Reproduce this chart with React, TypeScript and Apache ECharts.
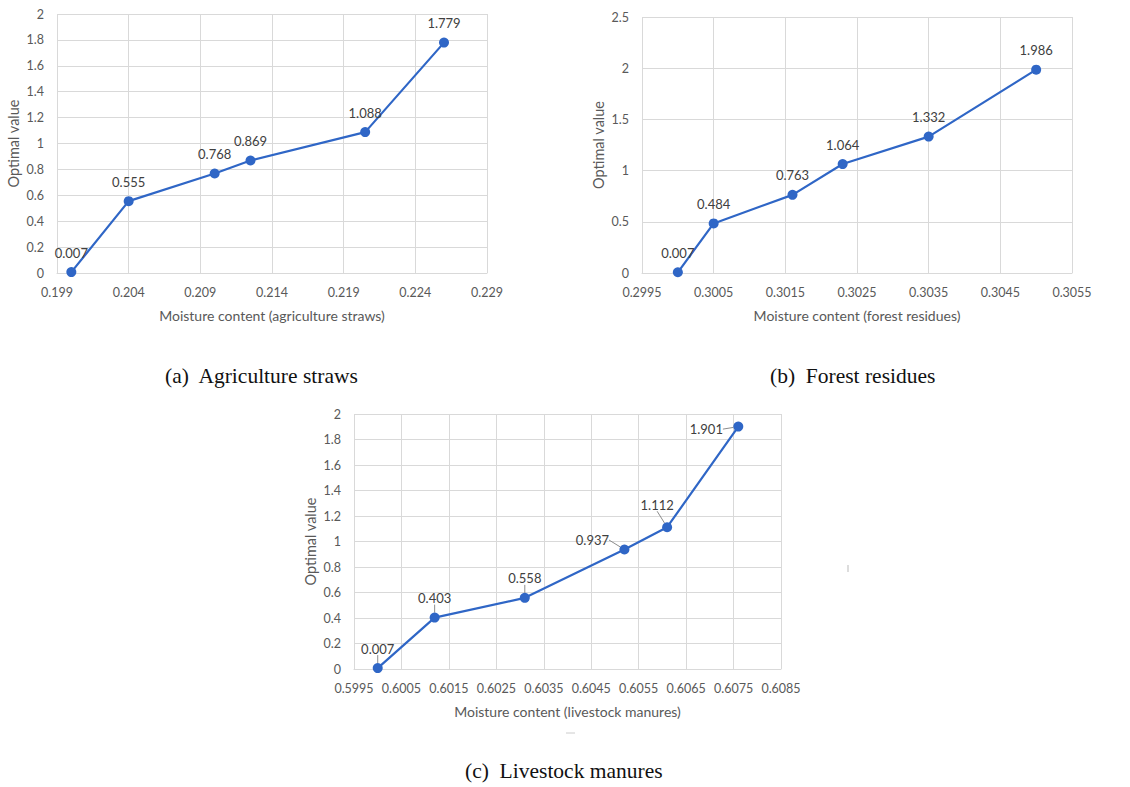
import React, { useEffect, useRef } from "react";
import * as echarts from "echarts";

// (a) Agriculture straws
const aX = [0.2, 0.204, 0.21, 0.2125, 0.2205, 0.226];
const aY = [0.007, 0.555, 0.768, 0.869, 1.088, 1.779];
const aTicks = [0.199, 0.204, 0.209, 0.214, 0.219, 0.224, 0.229];
// (b) Forest residues
const bX = [0.3, 0.3005, 0.3016, 0.3023, 0.3035, 0.305];
const bY = [0.007, 0.484, 0.763, 1.064, 1.332, 1.986];
const bTicks = [0.2995, 0.3005, 0.3015, 0.3025, 0.3035, 0.3045, 0.3055];
// (c) Livestock manures
const cX = [0.6, 0.6012, 0.6031, 0.6052, 0.6061, 0.6076];
const cY = [0.007, 0.403, 0.558, 0.937, 1.112, 1.901];
const cTicks = [0.5995, 0.6005, 0.6015, 0.6025, 0.6035, 0.6045, 0.6055, 0.6065, 0.6075, 0.6085];

const xTitles = [
  "Moisture content (agriculture straws)",
  "Moisture content (forest residues)",
  "Moisture content (livestock manures)",
];
const yTitle = "Optimal value";
const captions = ["(a)  Agriculture straws", "(b)  Forest residues", "(c)  Livestock manures"];

const BLUE = "#2f66c6";
const GRID = "#d9d9d9";
const TXT = "#595959";
const FONT = "Lato";

export default function App() {
  const ref = useRef<HTMLDivElement>(null);
  useEffect(() => {
    if (!ref.current) return;
    const chart = echarts.init(ref.current, undefined, { renderer: "svg" });

    const grids = [
      { left: 57, top: 14, width: 430, height: 259 },
      { left: 642, top: 17, width: 430, height: 256 },
      { left: 354, top: 414, width: 427, height: 255 },
    ];
    const ticks = [aTicks, bTicks, cTicks];
    const digits = [3, 4, 4];
    const yMax = [2, 2.5, 2];
    const yInt = [0.2, 0.5, 0.2];

    const xAxis: any[] = ticks.map((t, i) => ({
      type: "value",
      gridIndex: i,
      min: t[0],
      max: t[t.length - 1],
      name: xTitles[i],
      nameLocation: "middle",
      nameGap: 35,
      nameTextStyle: { color: TXT, fontFamily: FONT, fontSize: 14 },
      axisLine: { show: true, lineStyle: { color: GRID, width: 1 } },
      axisTick: { show: false, customValues: t },
      axisLabel: {
        customValues: t,
        color: TXT,
        fontFamily: FONT,
        fontSize: 12.5,
        margin: 13,
        hideOverlap: false,
        formatter: (v: number) => v.toFixed(digits[i]),
      },
      splitLine: { show: false },
    }));

    // helper axes (no labels) whose ticks coincide with the tick values above,
    // measured from the first tick, to draw the vertical gridlines
    ticks.forEach((t, i) => {
      const step = t[1] - t[0];
      const span = t[t.length - 1] - t[0];
      xAxis.push({
        type: "value",
        gridIndex: i,
        position: "top",
        min: 0,
        max: Number(span.toFixed(6)),
        interval: Number(step.toFixed(6)),
        axisLine: { show: false },
        axisTick: { show: false },
        axisLabel: { show: false },
        splitLine: { show: true, lineStyle: { color: GRID, width: 1 } },
      });
    });

    const yAxis = [0, 1, 2].map((i) => ({
      type: "value",
      gridIndex: i,
      min: 0,
      max: yMax[i],
      interval: yInt[i],
      name: yTitle,
      nameLocation: "middle",
      nameGap: 36,
      nameTextStyle: { color: TXT, fontFamily: FONT, fontSize: 14.5 },
      axisLine: { show: false },
      axisTick: { show: false },
      axisLabel: { color: TXT, fontFamily: FONT, fontSize: 12.5, margin: 13 },
      splitLine: { show: true, lineStyle: { color: GRID, width: 1 } },
    }));

    const xs = [aX, bX, cX];
    const ys = [aY, bY, cY];

    const cShift: Record<number, [number, number]> = {
      3: [-32, 10],
      4: [-10, -3],
      5: [-32, 22],
    };

    const series = [0, 1, 2].map((i) => ({
      type: "line",
      xAxisIndex: i,
      yAxisIndex: i,
      z: 3,
      data: xs[i].map((x, k) => [x, ys[i][k]]),
      symbol: "circle",
      symbolSize: 10,
      lineStyle: { color: BLUE, width: 2.2 },
      itemStyle: { color: BLUE },
      label: {
        show: true,
        position: "top",
        distance: 8,
        color: "#404040",
        fontFamily: FONT,
        fontSize: 13,
        formatter: (p: any) => (p.value[1] as number).toFixed(3),
      },
      labelLine:
        i === 2
          ? { show: true, lineStyle: { color: "#8c8c8c", width: 1 } }
          : { show: false },
      labelLayout:
        i === 2
          ? (p: any) => {
              const s = cShift[p.dataIndex];
              return s ? { dx: s[0], dy: s[1] } : {};
            }
          : undefined,
    }));

    const capStyle = { fill: "#111", fontFamily: "Liberation Serif", fontSize: 21.5 };
    const graphic = [
      { type: "text", left: 263 - 98, top: 365, style: { ...capStyle, text: captions[0] } },
      { type: "text", left: 862 - 92, top: 365, style: { ...capStyle, text: captions[1] } },
      { type: "text", left: 572 - 107, top: 760, style: { ...capStyle, text: captions[2] } },
      { type: "line", shape: { x1: 848, y1: 565, x2: 848, y2: 572 }, style: { stroke: "#bbb", lineWidth: 1 } },
      { type: "line", shape: { x1: 566, y1: 733, x2: 575, y2: 733 }, style: { stroke: "#ccc", lineWidth: 1 } },
    ];

    chart.setOption({
      animation: false,
      backgroundColor: "#ffffff",
      grid: grids,
      xAxis,
      yAxis,
      series,
      graphic,
    } as any);

    return () => chart.dispose();
  }, []);

  return (
    <div
      ref={ref}
      style={{ position: "absolute", left: 0, top: 0, width: 1130, height: 787 }}
    />
  );
}
